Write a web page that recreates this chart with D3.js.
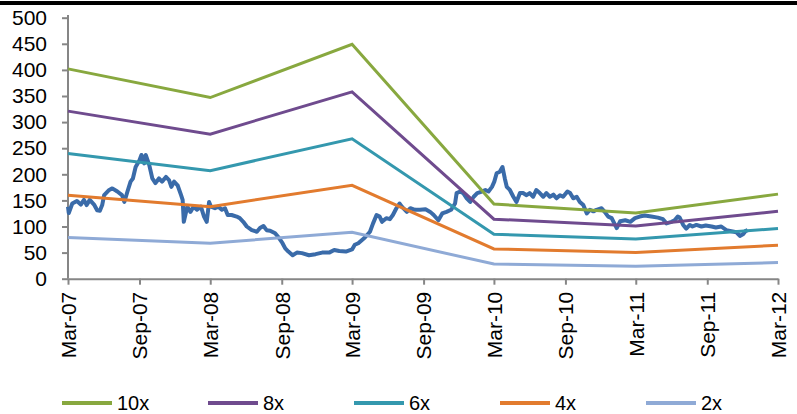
<!DOCTYPE html>
<html>
<head>
<meta charset="utf-8">
<script src="https://cdn.jsdelivr.net/npm/d3@7"></script>
<style>
  html, body { margin: 0; padding: 0; background: #fff; }
  svg { display: block; }
  .axis text, .legend text { font-family: "Liberation Sans", Arial, sans-serif; fill: #000; }
</style>
</head>
<body>
<svg id="chart" width="797" height="414"></svg>
<script>
// Annual valuation bands (price at 2x .. 10x earnings), one point each March
const bandDates = ["2007-03-01", "2008-03-01", "2009-03-01", "2010-03-01", "2011-03-01", "2012-03-01"];
const band10x = [402, 347, 449, 143, 126, 162];
const band8x  = [321, 277, 358, 114, 101, 129];
const band6x  = [240, 207, 268, 85, 76, 96];
const band4x  = [160, 138, 179, 57, 50, 64];
const band2x  = [79, 68, 89, 28, 24, 31];

const seriesNames = ["10x", "8x", "6x", "4x", "2x"];
const seriesColors = ["#88a83f", "#6f4b8e", "#3498ae", "#e27b2e", "#8faad6"];

// Share price
const priceDates = [
  "2007-03-01","2007-03-03","2007-03-12","2007-03-24","2007-04-03","2007-04-11","2007-04-18","2007-04-26",
  "2007-05-07","2007-05-15","2007-05-22","2007-05-28","2007-06-02","2007-06-15","2007-06-23","2007-07-06",
  "2007-07-18","2007-07-24","2007-08-01","2007-08-09","2007-08-15","2007-08-22","2007-09-01","2007-09-06",
  "2007-09-13","2007-09-17","2007-09-26","2007-10-04","2007-10-12","2007-10-21","2007-10-29","2007-11-08",
  "2007-11-16","2007-11-22","2007-11-29","2007-12-08","2007-12-17","2007-12-21","2007-12-24","2008-01-02",
  "2008-01-10","2008-01-18","2008-01-27","2008-02-06","2008-02-14","2008-02-21","2008-02-27","2008-03-03",
  "2008-03-13","2008-03-22","2008-03-31","2008-04-08","2008-04-15","2008-04-25","2008-05-08","2008-05-16",
  "2008-05-25","2008-06-03","2008-06-16","2008-06-29","2008-07-07","2008-07-16","2008-07-24","2008-08-02",
  "2008-08-15","2008-08-23","2008-09-03","2008-09-10","2008-09-18","2008-09-29","2008-10-10","2008-10-23",
  "2008-11-10","2008-11-27","2008-12-14","2009-01-01","2009-01-14","2009-01-27","2009-02-13","2009-03-01",
  "2009-03-08","2009-03-17","2009-04-03","2009-04-16","2009-04-24","2009-05-03","2009-05-11","2009-05-17",
  "2009-05-28","2009-06-06","2009-06-14","2009-06-23","2009-07-01","2009-07-07","2009-07-20","2009-07-29",
  "2009-08-10","2009-08-23","2009-09-06","2009-09-18","2009-09-27","2009-10-09","2009-10-19","2009-10-30",
  "2009-11-11","2009-11-21","2009-11-25","2009-12-04","2009-12-12","2009-12-21","2009-12-30","2010-01-08",
  "2010-01-17","2010-01-29","2010-02-07","2010-02-15","2010-02-24","2010-03-02","2010-03-08","2010-03-16",
  "2010-03-23","2010-03-29","2010-04-03","2010-04-11","2010-04-20","2010-04-28","2010-05-07","2010-05-15",
  "2010-05-24","2010-06-01","2010-06-10","2010-06-18","2010-06-27","2010-07-06","2010-07-14","2010-07-23",
  "2010-08-01","2010-08-09","2010-08-18","2010-08-26","2010-09-06","2010-09-13","2010-09-21","2010-09-30",
  "2010-10-08","2010-10-17","2010-10-26","2010-11-03","2010-11-12","2010-11-20","2010-12-03","2010-12-11",
  "2010-12-20","2010-12-29","2011-01-11","2011-01-20","2011-02-02","2011-02-15","2011-02-27","2011-03-11",
  "2011-03-24","2011-04-10","2011-04-27","2011-05-10","2011-05-19","2011-06-01","2011-06-09","2011-06-17",
  "2011-06-22","2011-07-01","2011-07-09","2011-07-18","2011-07-25","2011-08-04","2011-08-17","2011-08-28",
  "2011-09-12","2011-09-23","2011-10-07","2011-10-20","2011-11-02","2011-11-15","2011-11-24","2011-12-02",
  "2011-12-08","2011-12-14"
];
const priceValues = [
  138,126,144,149,142,151,141,151,
  142,131,130,141,160,170,173,167,
  160,147,167,186,192,214,227,237,
  221,237,218,192,183,192,186,195,
  189,176,186,179,160,151,109,138,
  128,138,132,138,119,109,147,138,
  135,138,132,135,122,122,119,116,
  109,100,93,90,97,101,93,92,
  87,80,68,58,52,45,50,49,
  45,47,50,50,55,53,52,56,
  65,68,79,90,106,122,119,109,
  116,114,122,135,144,138,128,135,
  132,132,133,128,122,112,125,128,
  132,144,164,167,164,154,147,157,
  164,167,170,167,176,186,202,205,
  214,192,176,170,157,147,164,164,
  160,164,157,170,164,157,164,157,
  161,154,160,157,167,164,154,157,
  147,141,125,132,129,132,135,128,
  119,116,97,110,112,109,116,119,
  121,119,117,114,106,109,112,119,
  117,103,96,103,100,103,100,102,
  100,98,100,93,91,89,82,85,
  91,93
];

// Axis labels
const xTickDates = ["2007-03-01","2007-09-01","2008-03-01","2008-09-01","2009-03-01","2009-09-01",
                    "2010-03-01","2010-09-01","2011-03-01","2011-09-01","2012-03-01"];
const yTickValues = [0, 50, 100, 150, 200, 250, 300, 350, 400, 450, 500];

const parse = d3.timeParse("%Y-%m-%d");
const svg = d3.select("#chart");

const x = d3.scaleTime()
  .domain([parse("2007-03-01"), parse("2012-03-01")])
  .range([68, 778]);
const y = d3.scaleLinear().domain([0, 500]).range([278.7, 17.7]);

// heavy rule along the top edge
svg.append("rect").attr("x", 0).attr("y", 1).attr("width", 797).attr("height", 4).attr("fill", "#000");

const axisColor = "#868686";

// y axis
const yAxis = svg.append("g").attr("class", "axis")
  .attr("transform", "translate(68,0)")
  .call(d3.axisLeft(y).tickValues(yTickValues).tickSize(6).tickPadding(15).tickFormat(d3.format("d")));
yAxis.select(".domain").attr("stroke", axisColor).attr("stroke-width", 2)
  .attr("d", `M0,${y(0)}V15`);
yAxis.selectAll(".tick line").attr("stroke", axisColor).attr("stroke-width", 2);
yAxis.selectAll(".tick text").attr("font-size", 21);

// x axis
const xAxis = svg.append("g").attr("class", "axis")
  .attr("transform", `translate(0,${y(0)})`)
  .call(d3.axisBottom(x).tickValues(xTickDates.map(parse)).tickSize(6).tickSizeOuter(0)
    .tickFormat(d3.timeFormat("%b-%y")));
xAxis.select(".domain").attr("stroke", axisColor).attr("stroke-width", 2);
xAxis.selectAll(".tick line").attr("stroke", axisColor).attr("stroke-width", 2);
xAxis.selectAll(".tick text")
  .attr("font-size", 21)
  .attr("text-anchor", "end")
  .attr("dy", "0.35em")
  .attr("transform", "translate(0,13) rotate(-90)")
  .attr("x", 0).attr("y", 0);

// price line (drawn beneath the bands)
const priceData = priceDates.map((d, i) => ({ date: parse(d), value: priceValues[i] }));
const line = d3.line().x(d => x(d.date)).y(d => y(d.value));
svg.append("path")
  .datum(priceData)
  .attr("fill", "none")
  .attr("stroke", "#3a6ba9")
  .attr("stroke-width", 4)
  .attr("stroke-linejoin", "round")
  .attr("d", line);

// valuation bands
const bands = [band10x, band8x, band6x, band4x, band2x];
bands.forEach((vals, k) => {
  const data = bandDates.map((d, i) => ({ date: parse(d), value: vals[i] }));
  svg.append("path")
    .datum(data)
    .attr("fill", "none")
    .attr("stroke", seriesColors[k])
    .attr("stroke-width", 3)
    .attr("d", line);
});

// legend
const legend = svg.append("g").attr("class", "legend").attr("transform", "translate(62,403)");
seriesNames.forEach((name, k) => {
  const g = legend.append("g").attr("transform", `translate(${k * 146},0)`);
  g.append("line").attr("x1", 0).attr("x2", 50).attr("y1", 0).attr("y2", 0)
    .attr("stroke", seriesColors[k]).attr("stroke-width", 4);
  g.append("text").attr("x", 55).attr("y", 0).attr("dy", "0.35em")
    .attr("font-size", 20).text(name);
});
</script>
</body>
</html>
